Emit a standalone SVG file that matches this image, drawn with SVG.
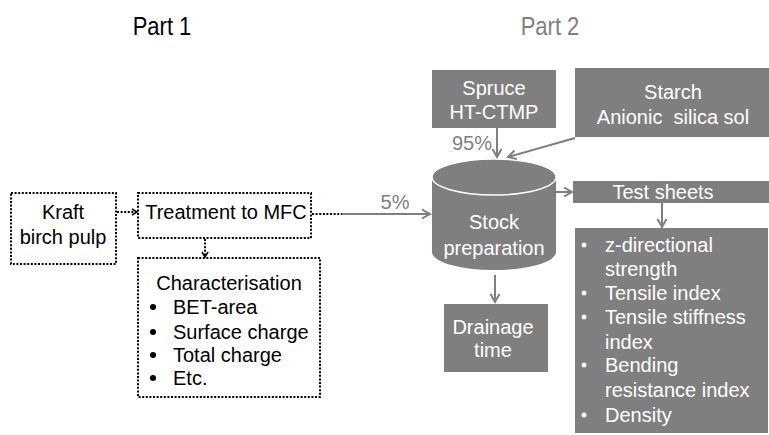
<svg xmlns="http://www.w3.org/2000/svg" width="769" height="435" viewBox="0 0 769 435">
<style>
text{font-family:"Liberation Sans",Arial,sans-serif;font-size:20px}
.blk{fill:#000}
.wht{fill:#fff}
.gry{fill:#7f7f7f}
.mid{text-anchor:middle}
.box{fill:#7f7f7f}
.dot{fill:#fff;stroke:#000;stroke-width:2;stroke-dasharray:2 1.6}
.dl{fill:none;stroke:#000;stroke-width:2;stroke-dasharray:2 1.6}
.gl{fill:none;stroke:#7f7f7f;stroke-width:2}
</style>
<defs>
<marker id="ab" markerWidth="8" markerHeight="8" refX="6" refY="4" orient="auto" markerUnits="userSpaceOnUse">
<path d="M1,1 L6,4 L1,7" fill="none" stroke="#000" stroke-width="1.5"/>
</marker>
<marker id="ag" markerWidth="12" markerHeight="12" refX="9" refY="6" orient="auto" markerUnits="userSpaceOnUse">
<path d="M1,1.5 L9,6 L1,10.5" fill="none" stroke="#7f7f7f" stroke-width="2"/>
</marker>
</defs>
<text transform="translate(162,35) scale(1,1.15)" class="blk mid" style="font-size:22px">Part 1</text>
<text transform="translate(550,35) scale(1,1.15)" class="mid" style="font-size:22px;fill:#808080">Part 2</text>
<g id="kraft">
<rect x="11" y="193" width="105" height="71" class="dot"/>
<text x="63" y="219" class="blk mid">Kraft</text>
<text x="63" y="244" class="blk mid">birch pulp</text>
</g>
<g id="treatment">
<rect x="138" y="193" width="173" height="45" class="dot"/>
<text x="226" y="219" class="blk mid">Treatment to MFC</text>
</g>
<g id="characterisation">
<rect x="138" y="258" width="182" height="139" class="dot"/>
<text x="229" y="290" class="blk mid">Characterisation</text>
<circle cx="153" cy="307" r="3" fill="#000"/>
<text x="173" y="314" class="blk">BET-area</text>
<circle cx="153" cy="332" r="3" fill="#000"/>
<text x="173" y="339" class="blk">Surface charge</text>
<circle cx="153" cy="355" r="3" fill="#000"/>
<text x="173" y="362" class="blk">Total charge</text>
<circle cx="153" cy="378" r="3" fill="#000"/>
<text x="173" y="385" class="blk">Etc.</text>
</g>
<g id="spruce">
<rect x="432" y="70" width="124" height="58" class="box"/>
<text x="494" y="95" class="wht mid">Spruce</text>
<text x="494" y="119" class="wht mid">HT-CTMP</text>
</g>
<g id="starch">
<rect x="575" y="68" width="194" height="69" class="box"/>
<text x="673" y="99" class="wht mid">Starch</text>
<text x="673" y="124" class="wht mid" xml:space="preserve">Anionic  silica sol</text>
</g>
<g id="stock">
<path d="M432,177 L432,252 A62,18 0 0 0 556,252 L556,177 Z" class="box"/>
<ellipse cx="494" cy="177" rx="62" ry="18" class="box" stroke="#fff" stroke-width="1.5"/>
<text x="494" y="229" class="wht mid">Stock</text>
<text x="494" y="255" class="wht mid">preparation</text>
</g>
<g id="testsheets">
<rect x="573" y="181" width="196" height="22" class="box"/>
<text x="663" y="199" class="wht mid">Test sheets</text>
</g>
<g id="properties">
<rect x="575" y="228" width="193" height="205" class="box"/>
<circle cx="584" cy="245" r="2.5" fill="#fff"/>
<text x="605" y="252" class="wht">z-directional</text>
<text x="605" y="276" class="wht">strength</text>
<circle cx="584" cy="293" r="2.5" fill="#fff"/>
<text x="605" y="300" class="wht">Tensile index</text>
<circle cx="584" cy="317" r="2.5" fill="#fff"/>
<text x="605" y="324" class="wht">Tensile stiffness</text>
<text x="605" y="349" class="wht">index</text>
<circle cx="584" cy="365" r="2.5" fill="#fff"/>
<text x="605" y="372" class="wht">Bending</text>
<text x="605" y="397" class="wht">resistance index</text>
<circle cx="584" cy="415" r="2.5" fill="#fff"/>
<text x="605" y="422" class="wht">Density</text>
</g>
<g id="drainage">
<rect x="444" y="304" width="104" height="68" class="box"/>
<text x="493" y="334" class="wht mid">Drainage</text>
<text x="493" y="357" class="wht mid">time</text>
</g>
<g id="connectors">
<line x1="117" y1="212" x2="137" y2="212" class="dl" marker-end="url(#ab)"/>
<line x1="205" y1="239" x2="205" y2="257" class="dl" marker-end="url(#ab)"/>
<line x1="312" y1="214" x2="342" y2="214" class="dl"/>
<line x1="342" y1="214" x2="430" y2="214" class="gl" marker-end="url(#ag)"/>
<text x="395" y="209" class="gry mid">5%</text>
<line x1="497" y1="128" x2="497" y2="157" class="gl" marker-end="url(#ag)"/>
<text x="472" y="150" class="gry mid">95%</text>
<line x1="575" y1="138" x2="508" y2="157" class="gl" marker-end="url(#ag)"/>
<line x1="556" y1="192" x2="572" y2="192" class="gl" marker-end="url(#ag)"/>
<line x1="662" y1="203" x2="662" y2="227" class="gl" marker-end="url(#ag)"/>
<line x1="495" y1="275" x2="495" y2="302" class="gl" marker-end="url(#ag)"/>
</g>
</svg>
